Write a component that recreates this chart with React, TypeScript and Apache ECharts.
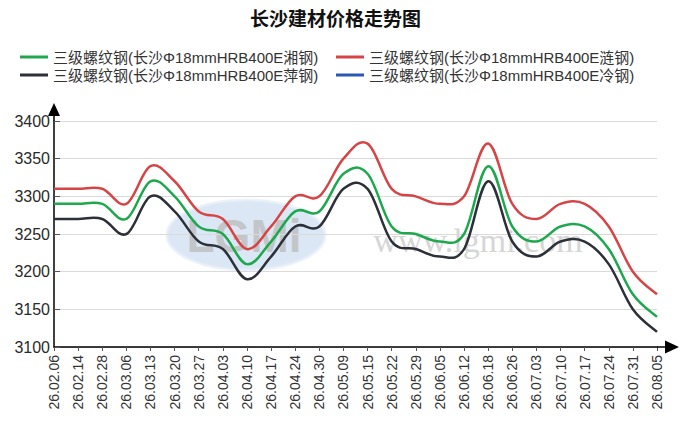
import { useEffect, useRef } from "react";
import * as echarts from "echarts";
import { ECharts } from "echarts";

// 日期（x 轴）
const dates = [
  "26.02.06", "26.02.14", "26.02.28", "26.03.06", "26.03.13", "26.03.20",
  "26.03.27", "26.04.03", "26.04.10", "26.04.17", "26.04.24", "26.04.30",
  "26.05.09", "26.05.15", "26.05.22", "26.05.29", "26.06.05", "26.06.12",
  "26.06.18", "26.06.26", "26.07.03", "26.07.10", "26.07.17", "26.07.24",
  "26.07.31", "26.08.05",
];

const names = [
  "三级螺纹钢(长沙Φ18mmHRB400E湘钢)",
  "三级螺纹钢(长沙Φ18mmHRB400E涟钢)",
  "三级螺纹钢(长沙Φ18mmHRB400E萍钢)",
  "三级螺纹钢(长沙Φ18mmHRB400E冷钢)",
];

const xiangGang = [
  3290, 3290, 3290, 3270, 3320, 3300, 3260, 3250, 3210, 3240, 3280, 3280, 3330,
  3330, 3260, 3250, 3240, 3250, 3340, 3260, 3240, 3260, 3260, 3230, 3170, 3140,
];
const lianGang = [
  3310, 3310, 3310, 3290, 3340, 3320, 3280, 3270, 3230, 3260, 3300, 3300, 3350,
  3370, 3310, 3300, 3290, 3300, 3370, 3290, 3270, 3290, 3290, 3260, 3200, 3170,
];
const pingGang = [
  3270, 3270, 3270, 3250, 3300, 3280, 3240, 3230, 3190, 3220, 3260, 3260, 3310,
  3310, 3240, 3230, 3220, 3230, 3320, 3240, 3220, 3240, 3240, 3210, 3150, 3120,
];
const lengGang: number[] = [];

const yTicks = [3100, 3150, 3200, 3250, 3300, 3350, 3400];

const colors = ["#1ea84e", "#d64545", "#2c3038", "#2b58b6"];

// 坐标轴末端箭头（带一段短线）
const arrowX = "path://M6.5,0 L13,14 L0,14 Z M5.75,13 L7.25,13 L7.25,22 L5.75,22 Z";
const arrowY = "path://M6,0 L12,13 L0,13 Z M5.25,12 L6.75,12 L6.75,18 L5.25,18 Z";
const legendIcon = "path://M0,0 L28,0 L28,3 L0,3 Z";

const font = "'Liberation Sans', 'Noto Sans CJK SC', sans-serif";

// Catmull-Rom 样条，曲线会在平台处略有起伏
const splinePath = (pts: number[][], k = 0.18) => {
  if (!pts.length) return "";
  let d = `M${pts[0][0]},${pts[0][1]}`;
  for (let i = 0; i < pts.length - 1; i++) {
    const p0 = pts[i - 1] || pts[i];
    const p1 = pts[i];
    const p2 = pts[i + 1];
    const p3 = pts[i + 2] || p2;
    const c1x = p1[0] + (p2[0] - p0[0]) * k;
    const c1y = p1[1] + (p2[1] - p0[1]) * k;
    const c2x = p2[0] - (p3[0] - p1[0]) * k;
    const c2y = p2[1] - (p3[1] - p1[1]) * k;
    d += ` C${c1x},${c1y} ${c2x},${c2y} ${p2[0]},${p2[1]}`;
  }
  return d;
};

const PriceChart = () => {
  const chartRef = useRef<HTMLDivElement>(null);

  useEffect(() => {
    let myChart: ECharts | null = null;
    if (chartRef.current) {
      myChart = echarts.init(chartRef.current, null, { renderer: "svg" });
      const legendText = { fontSize: 15, color: "#333", lineHeight: 18, fontFamily: font };
      const legendBase = {
        orient: "vertical",
        top: 43,
        icon: legendIcon,
        itemWidth: 28,
        itemHeight: 3,
        itemGap: 0,
        textStyle: legendText,
      };
      const seriesValues = [xiangGang, lianGang, pingGang, lengGang];

      myChart.setOption({
        animation: false,
        textStyle: { fontFamily: font },
        title: {
          text: "长沙建材价格走势图",
          left: 245,
          top: 3,
          textStyle: { fontSize: 19, fontWeight: "bold", color: "#111", fontFamily: "'Noto Sans CJK SC'" },
        },
        legend: [
          { ...legendBase, data: [names[0], names[2]], left: 15 },
          { ...legendBase, data: [names[1], names[3]], left: 331 },
        ],
        grid: { left: 54, right: 30, top: 121, bottom: 92 },
        xAxis: {
          type: "category",
          data: dates,
          boundaryGap: false,
          axisLine: {
            lineStyle: { color: "#000", width: 1.5 },
            symbol: ["none", arrowX],
            symbolSize: [13, 22],
            symbolOffset: [0, 11],
          },
          axisTick: { length: 4, lineStyle: { color: "#555" } },
          axisLabel: { rotate: 90, interval: 0, fontSize: 14, color: "#333", margin: 8 },
        },
        yAxis: {
          type: "value",
          min: yTicks[0],
          max: yTicks[yTicks.length - 1],
          interval: 50,
          axisLine: {
            show: true,
            lineStyle: { color: "#000", width: 1.5 },
            symbol: ["none", arrowY],
            symbolSize: [12, 18],
            symbolOffset: [0, 9],
          },
          axisTick: { show: true, inside: true, length: 6, lineStyle: { color: "#555" } },
          axisLabel: { fontSize: 16, color: "#2a2a2a", margin: 4, formatter: (v: number) => String(v) },
          splitLine: { lineStyle: { color: "#dadada" } },
        },
        graphic: [
          {
            type: "ellipse",
            shape: { cx: 246, cy: 235, rx: 79, ry: 35 },
            style: { fill: "#cfdff1", stroke: "#e8eff8", lineWidth: 3, opacity: 0.75 },
            z: -1,
          },
          {
            type: "text",
            x: 244,
            y: 236,
            style: {
              text: "LGMi",
              font: "bold 46px 'Liberation Sans'",
              fill: "#bdbdbd",
              textAlign: "center",
              textVerticalAlign: "middle",
              opacity: 0.8,
            },
            z: -1,
          },
          {
            type: "text",
            x: 478,
            y: 240,
            style: {
              text: "www.lgmi.com",
              font: "34px 'Liberation Serif'",
              fill: "#d6d6d6",
              textAlign: "center",
              textVerticalAlign: "middle",
            },
            z: -1,
          },
        ],
        series: seriesValues.map((vals, i) => ({
          name: names[i],
          type: "custom",
          data: vals.map((v, j) => [j, v]),
          encode: { x: 0, y: 1 },
          itemStyle: { color: colors[i] },
          renderItem: (params: any, api: any) => {
            if (params.dataIndex !== 0) return null;
            const pts = vals.map((v, j) => api.coord([j, v]));
            return {
              type: "path",
              shape: { pathData: splinePath(pts) },
              style: { stroke: colors[i], lineWidth: 2.5, fill: "none" },
            };
          },
        })),
      });
    }

    return () => {
      // 组件卸载时销毁echarts实例
      myChart && myChart.dispose();
    };
  }, []);

  return (
    <div
      ref={chartRef}
      style={{ position: "fixed", left: 0, top: 0, width: "687px", height: "439px", background: "#fff" }}
    ></div>
  );
};

export default function App() {
  return <PriceChart />;
}
